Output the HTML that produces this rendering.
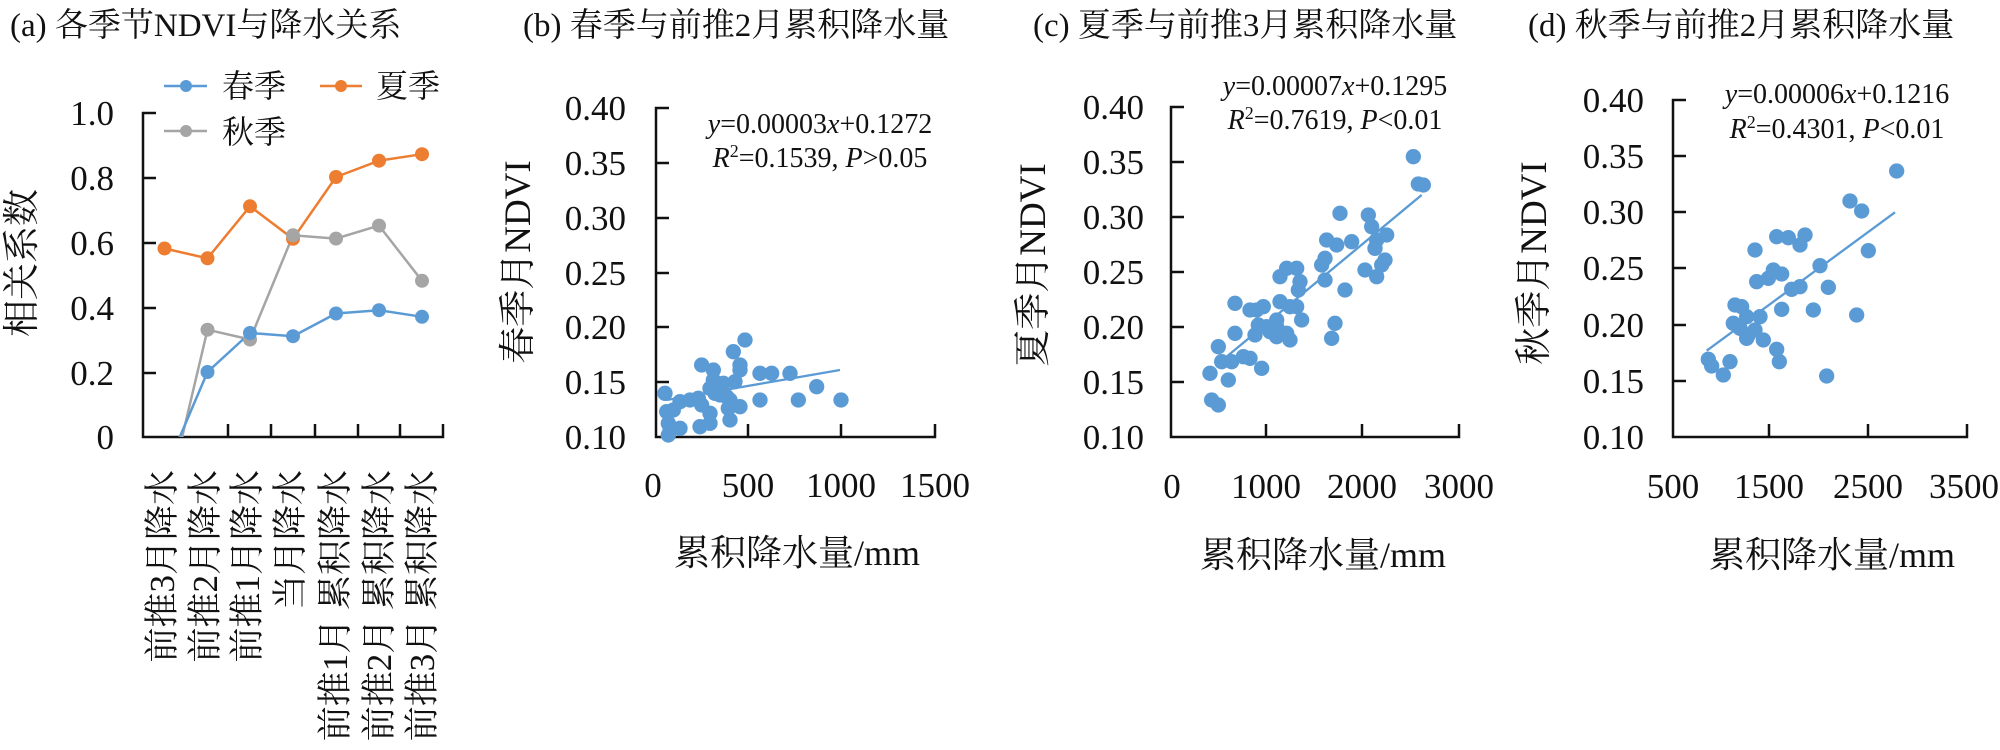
<!DOCTYPE html>
<html><head><meta charset="utf-8"><style>
html,body{margin:0;padding:0;background:#fff;}
svg{display:block;font-family:"Liberation Serif","Noto Serif CJK SC","Noto Sans CJK SC",serif;}
</style></head><body>
<svg width="2000" height="750" viewBox="0 0 2000 750" xmlns="http://www.w3.org/2000/svg">
<defs><clipPath id="ca"><rect x="143" y="100" width="300" height="337"/></clipPath></defs>
<!-- Titles -->
<g font-size="33" fill="#111">
<text x="10" y="36">(a) 各季节NDVI与降水关系</text>
<text x="523" y="36">(b) 春季与前推2月累积降水量</text>
<text x="1033" y="36">(c) 夏季与前推3月累积降水量</text>
<text x="1528" y="36">(d) 秋季与前推2月累积降水量</text>
</g>

<!-- Panel a -->
<g stroke="#111" stroke-width="2.5" fill="none">
<path d="M156,113 H143 V437 H443 V424"/>
<path d="M143,178 H156 M143,243 H156 M143,308 H156 M143,373 H156"/>
<path d="M228,437 V424 M271,437 V424 M315,437 V424 M358,437 V424 M400,437 V424"/>
</g>
<g font-size="35" fill="#111" text-anchor="end">
<text x="114" y="125">1.0</text><text x="114" y="190">0.8</text><text x="114" y="255">0.6</text>
<text x="114" y="320">0.4</text><text x="114" y="385">0.2</text><text x="114" y="449">0</text>
</g>
<text transform="translate(34,263) rotate(-90)" font-size="37" text-anchor="middle" fill="#111">相关系数</text>
<g font-size="35" fill="#111" text-anchor="end">
<text transform="translate(174,470) rotate(-90)">前推3月降水</text>
<text transform="translate(217,470) rotate(-90)">前推2月降水</text>
<text transform="translate(259,470) rotate(-90)">前推1月降水</text>
<text transform="translate(302,470) rotate(-90)">当月降水</text>
<text transform="translate(347,470) rotate(-90)">前推1月 累积降水</text>
<text transform="translate(391,470) rotate(-90)">前推2月 累积降水</text>
<text transform="translate(434,470) rotate(-90)">前推3月 累积降水</text>
</g>
<g clip-path="url(#ca)">
<polyline fill="none" stroke="#ed7d31" stroke-width="2.5" points="164.5,248.5 207.5,258.3 250,206.3 293,238.8 336,177 379,160.7 422,154.2"/>
<polyline fill="none" stroke="#a5a5a5" stroke-width="2.5" points="164.5,511.8 207.5,329.7 250,339.5 293,235.3 336,238.6 379,225.6 422,280.8"/>
<polyline fill="none" stroke="#5b9bd5" stroke-width="2.5" points="164.5,472.8 207.5,372 250,333 293,336.2 336,313.5 379,310.2 422,316.8"/>
</g>
<g fill="#ed7d31">
<circle cx="164.5" cy="248.5" r="7"/><circle cx="207.5" cy="258.3" r="7"/><circle cx="250" cy="206.3" r="7"/><circle cx="293" cy="238.8" r="7"/><circle cx="336" cy="177" r="7"/><circle cx="379" cy="160.7" r="7"/><circle cx="422" cy="154.2" r="7"/>
</g>
<g fill="#a5a5a5">
<circle cx="207.5" cy="329.7" r="7"/><circle cx="250" cy="339.5" r="7"/><circle cx="293" cy="235.3" r="7"/><circle cx="336" cy="238.6" r="7"/><circle cx="379" cy="225.6" r="7"/><circle cx="422" cy="280.8" r="7"/>
</g>
<g fill="#5b9bd5">
<circle cx="207.5" cy="372" r="7"/><circle cx="250" cy="333" r="7"/><circle cx="293" cy="336.2" r="7"/><circle cx="336" cy="313.5" r="7"/><circle cx="379" cy="310.2" r="7"/><circle cx="422" cy="316.8" r="7"/>
</g>
<!-- legend -->
<line x1="164" y1="86" x2="207" y2="86" stroke="#5b9bd5" stroke-width="2.5"/><circle cx="186" cy="86" r="6" fill="#5b9bd5"/>
<line x1="320" y1="86" x2="362" y2="86" stroke="#ed7d31" stroke-width="2.5"/><circle cx="341" cy="86" r="6" fill="#ed7d31"/>
<line x1="164" y1="131" x2="207" y2="131" stroke="#a5a5a5" stroke-width="2.5"/><circle cx="186" cy="131" r="6" fill="#a5a5a5"/>
<g font-size="32" fill="#111"><text x="222" y="97">春季</text><text x="376" y="97">夏季</text><text x="222" y="143">秋季</text></g>

<!-- Panel b -->
<g stroke="#111" stroke-width="2.5" fill="none">
<path d="M669,108 H656 V437 H935 V424"/>
<path d="M656,163 H669 M656,218 H669 M656,273 H669 M656,327 H669 M656,382 H669 M748,437 V424 M841,437 V424"/>
</g>
<g font-size="35" fill="#111" text-anchor="end">
<text x="626" y="120">0.40</text><text x="626" y="175">0.35</text><text x="626" y="230">0.30</text><text x="626" y="285">0.25</text><text x="626" y="339">0.20</text><text x="626" y="394">0.15</text><text x="626" y="449">0.10</text>
</g>
<g font-size="35" fill="#111" text-anchor="middle">
<text x="653" y="497">0</text><text x="748" y="497">500</text><text x="841" y="497">1000</text><text x="935" y="497">1500</text>
</g>
<text x="797" y="565" font-size="36" text-anchor="middle" fill="#111">累积降水量/mm</text>
<text transform="translate(530,262) rotate(-90)" font-size="37" text-anchor="middle" fill="#111">春季月NDVI</text>
<g font-size="28" fill="#111" text-anchor="middle">
<text x="820" y="133"><tspan font-style="italic">y</tspan>=0.00003<tspan font-style="italic">x</tspan>+0.1272</text>
<text x="820" y="167"><tspan font-style="italic">R</tspan><tspan font-size="18" dy="-10">2</tspan><tspan dy="10">=0.1539, </tspan><tspan font-style="italic">P</tspan>&gt;0.05</text>
</g>
<g transform="translate(480,60) scale(0.33333)">
<line x1="560" y1="1020" x2="1080" y2="930" stroke="#5b9bd5" stroke-width="7"/>
<g fill="#5b9bd5">
<circle cx="555" cy="1000" r="23"/><circle cx="560" cy="1055" r="23"/><circle cx="580" cy="1050" r="23"/><circle cx="565" cy="1090" r="23"/><circle cx="570" cy="1110" r="23"/><circle cx="600" cy="1105" r="23"/><circle cx="600" cy="1025" r="23"/><circle cx="630" cy="1020" r="23"/><circle cx="655" cy="1015" r="23"/><circle cx="665" cy="1035" r="23"/><circle cx="660" cy="1100" r="23"/><circle cx="690" cy="1090" r="23"/><circle cx="690" cy="1060" r="23"/><circle cx="665" cy="915" r="23"/><circle cx="700" cy="930" r="23"/><circle cx="700" cy="960" r="23"/><circle cx="690" cy="985" r="23"/><circle cx="710" cy="975" r="23"/><circle cx="730" cy="970" r="23"/><circle cx="720" cy="1005" r="23"/><circle cx="740" cy="1010" r="23"/><circle cx="750" cy="1020" r="23"/><circle cx="745" cy="1045" r="23"/><circle cx="750" cy="1080" r="23"/><circle cx="780" cy="1040" r="23"/><circle cx="765" cy="965" r="23"/><circle cx="780" cy="930" r="23"/><circle cx="780" cy="915" r="23"/><circle cx="760" cy="875" r="23"/><circle cx="795" cy="840" r="23"/><circle cx="840" cy="940" r="23"/><circle cx="875" cy="940" r="23"/><circle cx="930" cy="940" r="23"/><circle cx="840" cy="1020" r="23"/><circle cx="955" cy="1020" r="23"/><circle cx="1010" cy="980" r="23"/><circle cx="1083" cy="1020" r="23"/><circle cx="725" cy="1000" r="23"/><circle cx="705" cy="1000" r="23"/><circle cx="565" cy="1125" r="23"/>
</g></g>

<!-- Panel c -->
<g stroke="#111" stroke-width="2.5" fill="none">
<path d="M1184,107 H1171 V437 H1459 V424"/>
<path d="M1171,162 H1184 M1171,217 H1184 M1171,272 H1184 M1171,327 H1184 M1171,382 H1184 M1266,437 V424 M1362,437 V424"/>
</g>
<g font-size="35" fill="#111" text-anchor="end">
<text x="1144" y="119">0.40</text><text x="1144" y="174">0.35</text><text x="1144" y="229">0.30</text><text x="1144" y="284">0.25</text><text x="1144" y="339">0.20</text><text x="1144" y="394">0.15</text><text x="1144" y="449">0.10</text>
</g>
<g font-size="35" fill="#111" text-anchor="middle">
<text x="1172" y="498">0</text><text x="1266" y="498">1000</text><text x="1362" y="498">2000</text><text x="1459" y="498">3000</text>
</g>
<text x="1323" y="567" font-size="36" text-anchor="middle" fill="#111">累积降水量/mm</text>
<text transform="translate(1045,265) rotate(-90)" font-size="37" text-anchor="middle" fill="#111">夏季月NDVI</text>
<g font-size="28" fill="#111" text-anchor="middle">
<text x="1335" y="95"><tspan font-style="italic">y</tspan>=0.00007<tspan font-style="italic">x</tspan>+0.1295</text>
<text x="1335" y="129"><tspan font-style="italic">R</tspan><tspan font-size="18" dy="-10">2</tspan><tspan dy="10">=0.7619, </tspan><tspan font-style="italic">P</tspan>&lt;0.01</text>
</g>
<g transform="translate(1000,60) scale(0.33333)">
<line x1="680" y1="890" x2="1265" y2="405" stroke="#5b9bd5" stroke-width="7"/>
<g fill="#5b9bd5">
<circle cx="1240" cy="290" r="23"/><circle cx="1255" cy="372" r="23"/><circle cx="1270" cy="375" r="23"/><circle cx="1020" cy="460" r="23"/><circle cx="1105" cy="465" r="23"/><circle cx="1115" cy="500" r="23"/><circle cx="1160" cy="525" r="23"/><circle cx="1130" cy="540" r="23"/><circle cx="1125" cy="565" r="23"/><circle cx="1155" cy="600" r="23"/><circle cx="1145" cy="615" r="23"/><circle cx="1130" cy="650" r="23"/><circle cx="1095" cy="630" r="23"/><circle cx="980" cy="540" r="23"/><circle cx="1010" cy="555" r="23"/><circle cx="1055" cy="545" r="23"/><circle cx="975" cy="595" r="23"/><circle cx="965" cy="615" r="23"/><circle cx="975" cy="660" r="23"/><circle cx="1035" cy="690" r="23"/><circle cx="1005" cy="790" r="23"/><circle cx="995" cy="835" r="23"/><circle cx="840" cy="650" r="23"/><circle cx="860" cy="625" r="23"/><circle cx="890" cy="625" r="23"/><circle cx="900" cy="665" r="23"/><circle cx="895" cy="690" r="23"/><circle cx="890" cy="740" r="23"/><circle cx="870" cy="740" r="23"/><circle cx="905" cy="780" r="23"/><circle cx="840" cy="725" r="23"/><circle cx="830" cy="780" r="23"/><circle cx="830" cy="800" r="23"/><circle cx="820" cy="810" r="23"/><circle cx="860" cy="820" r="23"/><circle cx="870" cy="840" r="23"/><circle cx="830" cy="830" r="23"/><circle cx="790" cy="740" r="23"/><circle cx="770" cy="750" r="23"/><circle cx="750" cy="750" r="23"/><circle cx="705" cy="730" r="23"/><circle cx="775" cy="795" r="23"/><circle cx="765" cy="825" r="23"/><circle cx="800" cy="800" r="23"/><circle cx="810" cy="815" r="23"/><circle cx="705" cy="820" r="23"/><circle cx="655" cy="860" r="23"/><circle cx="665" cy="905" r="23"/><circle cx="695" cy="905" r="23"/><circle cx="730" cy="890" r="23"/><circle cx="750" cy="895" r="23"/><circle cx="785" cy="925" r="23"/><circle cx="685" cy="960" r="23"/><circle cx="630" cy="940" r="23"/><circle cx="635" cy="1020" r="23"/><circle cx="655" cy="1035" r="23"/>
</g></g>

<!-- Panel d -->
<g stroke="#111" stroke-width="2.5" fill="none">
<path d="M1686,100 H1673 V437 H1967 V424"/>
<path d="M1673,156 H1686 M1673,212 H1686 M1673,268 H1686 M1673,325 H1686 M1673,381 H1686 M1769,437 V424 M1868,437 V424"/>
</g>
<g font-size="35" fill="#111" text-anchor="end">
<text x="1644" y="112">0.40</text><text x="1644" y="168">0.35</text><text x="1644" y="224">0.30</text><text x="1644" y="280">0.25</text><text x="1644" y="337">0.20</text><text x="1644" y="393">0.15</text><text x="1644" y="449">0.10</text>
</g>
<g font-size="35" fill="#111" text-anchor="middle">
<text x="1673" y="498">500</text><text x="1769" y="498">1500</text><text x="1868" y="498">2500</text><text x="1964" y="498">3500</text>
</g>
<text x="1832" y="567" font-size="36" text-anchor="middle" fill="#111">累积降水量/mm</text>
<text transform="translate(1546,263) rotate(-90)" font-size="37" text-anchor="middle" fill="#111">秋季月NDVI</text>
<g font-size="28" fill="#111" text-anchor="middle">
<text x="1837" y="103"><tspan font-style="italic">y</tspan>=0.00006<tspan font-style="italic">x</tspan>+0.1216</text>
<text x="1837" y="138"><tspan font-style="italic">R</tspan><tspan font-size="18" dy="-10">2</tspan><tspan dy="10">=0.4301, </tspan><tspan font-style="italic">P</tspan>&lt;0.01</text>
</g>
<g transform="translate(1500,60) scale(0.33333)">
<line x1="620" y1="872" x2="1185" y2="457" stroke="#5b9bd5" stroke-width="7"/>
<g fill="#5b9bd5">
<circle cx="1190" cy="333" r="23"/><circle cx="1050" cy="423" r="23"/><circle cx="1085" cy="453" r="23"/><circle cx="1105" cy="572" r="23"/><circle cx="915" cy="525" r="23"/><circle cx="900" cy="555" r="23"/><circle cx="865" cy="533" r="23"/><circle cx="830" cy="530" r="23"/><circle cx="765" cy="570" r="23"/><circle cx="960" cy="617" r="23"/><circle cx="985" cy="682" r="23"/><circle cx="900" cy="680" r="23"/><circle cx="875" cy="688" r="23"/><circle cx="820" cy="630" r="23"/><circle cx="845" cy="642" r="23"/><circle cx="805" cy="655" r="23"/><circle cx="770" cy="665" r="23"/><circle cx="940" cy="750" r="23"/><circle cx="845" cy="748" r="23"/><circle cx="1070" cy="765" r="23"/><circle cx="705" cy="735" r="23"/><circle cx="725" cy="740" r="23"/><circle cx="740" cy="770" r="23"/><circle cx="780" cy="770" r="23"/><circle cx="700" cy="790" r="23"/><circle cx="720" cy="805" r="23"/><circle cx="745" cy="825" r="23"/><circle cx="765" cy="810" r="23"/><circle cx="790" cy="840" r="23"/><circle cx="740" cy="835" r="23"/><circle cx="830" cy="868" r="23"/><circle cx="838" cy="905" r="23"/><circle cx="625" cy="898" r="23"/><circle cx="635" cy="918" r="23"/><circle cx="690" cy="905" r="23"/><circle cx="670" cy="945" r="23"/><circle cx="980" cy="948" r="23"/>
</g></g>
</svg>
</body></html>
